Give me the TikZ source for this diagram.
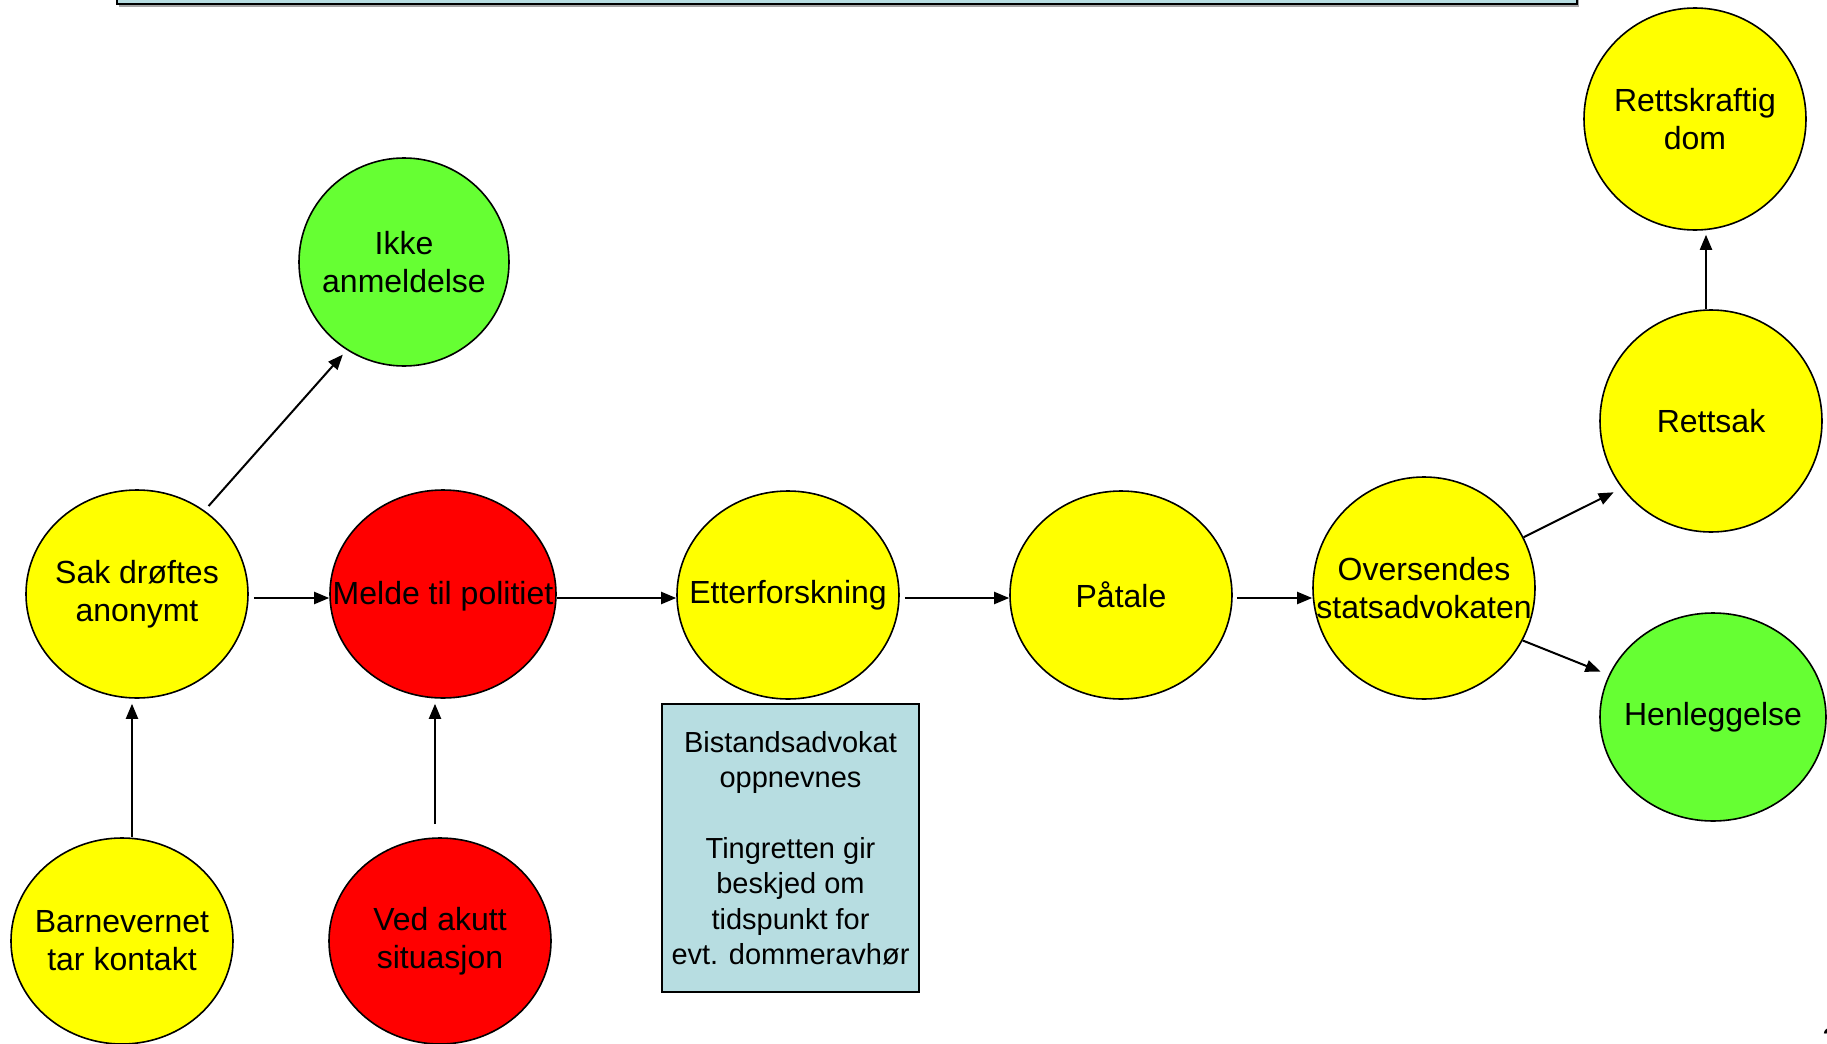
\documentclass[tikz,border=0pt]{standalone}
\usepackage{fontspec}
\setmainfont{Liberation Sans}
\usetikzlibrary{shapes.geometric,arrows.meta}
\definecolor{cyel}{HTML}{FFFF00}
\definecolor{cred}{HTML}{FF0000}
\definecolor{cgreen}{HTML}{66FF33}
\definecolor{cbox}{HTML}{B7DDE1}
\begin{document}
\begin{tikzpicture}[x=0.5pt,y=-0.5pt,
  lbl/.style={align=center,inner sep=0pt,text=black,font=\fontsize{16}{19}\selectfont},
  bub/.style={ellipse,draw=black,line width=0.8pt,inner sep=0pt},
  ybub/.style={bub,fill=cyel},
  rbub/.style={bub,fill=cred},
  gbub/.style={bub,fill=cgreen},
  infobox/.style={draw=black,line width=0.8pt,fill=cbox,inner sep=0pt,align=center,
    font=\fontsize{14.5}{17.7}\selectfont},
  conn/.style={line width=1pt,-{Triangle[length=7.5pt,width=6pt]}},
]
\useasboundingbox (0,0) rectangle (1827,1044);

% top box (cut off)
\fill[gray!70] (119,-30) rectangle (1579,6.5);
\draw[fill=cbox,line width=0.8pt] (117,-30) rectangle (1577,4);

% bubbles
\node[ybub,minimum width=111pt,minimum height=111pt,label={[lbl]center:Rettskraftig\\dom}] (rk) at (1695,119) {};
\node[gbub,minimum width=105pt,minimum height=104pt,label={[lbl]center:Ikke\\anmeldelse}] (ikke) at (404,262) {};
\node[ybub,minimum width=111pt,minimum height=111pt,label={[lbl]center:Rettsak}] (rs) at (1711,421) {};
\node[ybub,minimum width=111pt,minimum height=104pt,label={[lbl]center:Sak drøftes\\anonymt}] (sak) at (137,594) {};
\node[rbub,minimum width=113pt,minimum height=104pt,label={[lbl,yshift=-1pt]center:Melde til politiet}] (melde) at (443,594) {};
\node[ybub,minimum width=111pt,minimum height=104pt,label={[lbl]center:Etterforskning}] (etter) at (788,595) {};
\node[ybub,minimum width=111pt,minimum height=104pt,label={[lbl]center:Påtale}] (pat) at (1121,595) {};
\node[ybub,minimum width=111pt,minimum height=111pt,label={[lbl]center:Oversendes\\statsadvokaten}] (ovs) at (1424,588) {};
\node[gbub,minimum width=113pt,minimum height=104pt,label={[lbl]center:Henleggelse}] (henl) at (1713,717) {};
\node[ybub,minimum width=111pt,minimum height=103pt,label={[lbl]center:Barnevernet\\tar kontakt}] (barn) at (122,941) {};
\node[rbub,minimum width=111pt,minimum height=103pt,label={[lbl]center:Ved akutt\\situasjon}] (ved) at (440,941) {};

% info box
\node[infobox,minimum width=128.5pt,minimum height=144pt] (info) at (790.5,848)
  {Bistandsadvokat\\oppnevnes\\[17.7pt]Tingretten gir\\beskjed om\\tidspunkt for\\evt. dommeravhør};

% page number (cut off at the page edge, as in the reference)
\node[anchor=base west,inner sep=0pt,font=\fontsize{16}{19}\selectfont] (pg) at (1822,1050) {3};

% connectors
\draw[conn,shorten <=3pt,shorten >=3pt] (sak.51.5) -- (ikke.237);
\draw[conn,shorten <=2.5pt] ([yshift=-2pt]sak.east) -- ([yshift=-2pt]melde.west);
\draw[conn] ([yshift=-2pt]melde.east) -- ([yshift=-1.5pt]etter.west);
\draw[conn,shorten <=2.5pt] ([yshift=-1.5pt]etter.east) -- ([yshift=-1.5pt]pat.west);
\draw[conn,shorten <=2pt] ([yshift=-1.5pt]pat.east) -- ([yshift=-5pt]ovs.west);
\draw[conn,shorten >=4.5pt] (ovs.27.5) -- (rs.217);
\draw[conn,shorten >=4.5pt] (ovs.-28.4) -- (henl.158);
\draw[conn,shorten >=2pt] ([xshift=-2.5pt]rs.north) -- ([xshift=5.5pt]rk.south);
\draw[conn] ([xshift=5pt]barn.north) -- ([xshift=-2.5pt,yshift=-2.5pt]sak.south);
\draw[conn] ([xshift=-2.5pt,yshift=6.5pt]ved.north) -- ([xshift=-4pt,yshift=-2.5pt]melde.south);
\end{tikzpicture}
\end{document}
